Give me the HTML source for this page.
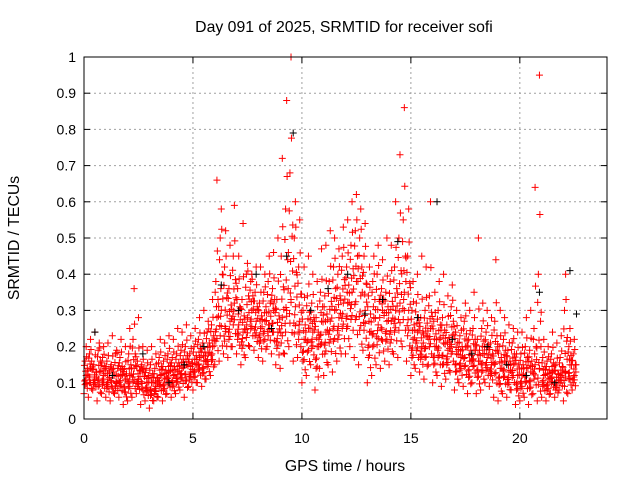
<!DOCTYPE html>
<html><head><meta charset="utf-8"><style>
body{margin:0;background:#fff}
svg{display:block;font-family:"Liberation Sans",sans-serif;font-size:14px}
.t{font-size:15.8px}
</style></head><body>
<svg id="chart" width="640" height="480">
<rect width="640" height="480" fill="#fff"/>
<text class="t" x="344" y="32" text-anchor="middle">Day 091 of 2025, SRMTID for receiver sofi</text>
<text class="t" x="345" y="471" text-anchor="middle">GPS time / hours</text>
<text class="t" transform="translate(19,238) rotate(-90)" text-anchor="middle">SRMTID / TECUs</text>
<g id="grid"></g>
<g id="ticks"></g>
<g id="marks"></g>
<rect x="84" y="57" width="523" height="362" fill="none" stroke="#000" stroke-width="1"/>
</svg>
<script>
const xTicks=[0,5,10,15,20];
const yTicks=[0,0.1,0.2,0.3,0.4,0.5,0.6,0.7,0.8,0.9,1];
const yTickLabels=["0","0.1","0.2","0.3","0.4","0.5","0.6","0.7","0.8","0.9","1"];
const times=[0,0.2,0.4,0.6,0.8,1,1.2,1.4,1.6,1.8,2,2.2,2.4,2.6,2.8,3,3.2,3.4,3.6,3.8,4,4.2,4.4,4.6,4.8,5,5.2,5.4,5.6,5.8,6,6.2,6.4,6.6,6.8,7,7.2,7.4,7.6,7.8,8,8.2,8.4,8.6,8.8,9,9.2,9.4,9.6,9.8,10,10.2,10.4,10.6,10.8,11,11.2,11.4,11.6,11.8,12,12.2,12.4,12.6,12.8,13,13.2,13.4,13.6,13.8,14,14.2,14.4,14.6,14.8,15,15.2,15.4,15.6,15.8,16,16.2,16.4,16.6,16.8,17,17.2,17.4,17.6,17.8,18,18.2,18.4,18.6,18.8,19,19.2,19.4,19.6,19.8,20,20.2,20.4,20.6,20.8,21,21.2,21.4,21.6,21.8,22,22.2,22.4];
const lows=[.07,.06,.08,.05,.07,.06,.05,.07,.06,.04,.05,.06,.07,.04,.05,.03,.05,.06,.05,.07,.06,.07,.08,.06,.09,.08,.1,.09,.11,.12,.15,.16,.18,.17,.2,.18,.15,.17,.2,.19,.17,.16,.2,.18,.15,.14,.18,.2,.16,.17,.1,.12,.15,.08,.14,.12,.15,.13,.16,.18,.18,.2,.17,.15,.19,.1,.12,.15,.14,.16,.15,.18,.17,.2,.16,.12,.14,.13,.11,.15,.1,.12,.09,.11,.13,.08,.1,.09,.07,.1,.07,.08,.1,.09,.06,.05,.07,.06,.08,.04,.05,.06,.04,.07,.05,.06,.05,.07,.06,.08,.05,.07,.08];
const mids=[.12,.14,.11,.13,.12,.11,.13,.10,.12,.11,.12,.14,.11,.13,.10,.10,.09,.12,.11,.13,.12,.13,.14,.15,.13,.15,.17,.16,.18,.2,.28,.3,.25,.27,.32,.26,.24,.28,.3,.27,.25,.27,.26,.3,.24,.28,.3,.33,.31,.27,.22,.25,.24,.2,.27,.24,.27,.3,.28,.32,.32,.35,.38,.34,.3,.24,.28,.26,.3,.27,.27,.3,.32,.35,.3,.22,.24,.2,.23,.25,.2,.22,.21,.19,.23,.18,.17,.2,.16,.19,.16,.18,.17,.15,.19,.14,.16,.13,.15,.12,.12,.14,.13,.15,.14,.12,.11,.13,.1,.12,.13,.15,.12];
const mids2=[.16,.18,.15,.19,.17,.16,.15,.18,.17,.14,.18,.22,.16,.15,.14,.15,.14,.17,.16,.18,.17,.18,.19,.2,.18,.2,.22,.21,.24,.26,.38,.5,.42,.36,.45,.36,.33,.4,.38,.35,.32,.35,.38,.36,.33,.45,.58,.68,.5,.42,.3,.34,.32,.28,.35,.34,.38,.42,.4,.45,.42,.48,.52,.5,.45,.34,.38,.4,.36,.35,.38,.42,.5,.55,.45,.3,.32,.28,.3,.34,.27,.3,.28,.26,.31,.24,.23,.27,.22,.25,.22,.25,.24,.21,.27,.2,.22,.19,.21,.18,.18,.2,.19,.25,.4,.17,.16,.18,.15,.17,.3,.2,.18];
const tops=[.2,.22,.24,.21,.2,.21,.23,.19,.22,.2,.25,.36,.28,.2,.19,.2,.18,.22,.21,.23,.22,.25,.24,.26,.23,.25,.28,.3,.27,.33,.66,.58,.52,.48,.59,.45,.54,.43,.4,.42,.42,.4,.45,.46,.5,.72,.88,1.0,.6,.55,.42,.45,.4,.38,.47,.48,.52,.5,.47,.53,.55,.6,.62,.58,.54,.42,.45,.48,.44,.5,.48,.6,.73,.86,.58,.38,.4,.45,.42,.6,.35,.38,.4,.34,.37,.3,.28,.32,.3,.35,.5,.32,.3,.28,.44,.3,.28,.26,.25,.24,.24,.28,.3,.64,.95,.22,.2,.24,.21,.23,.4,.25,.22];
const blackT=[0.5,1.3,2.7,3.9,4.6,5.5,6.3,7.1,7.9,8.6,9.3,9.6,10.4,11.2,12.1,12.9,13.7,14.4,15.3,16.2,16.9,17.8,18.5,19.4,20.3,20.9,21.6,22.3,22.6];
const blackV=[.24,.12,.18,.1,.15,.2,.37,.3,.4,.25,.45,.79,.3,.36,.4,.29,.33,.49,.28,.6,.22,.18,.2,.15,.12,.35,.1,.41,.29];

const ns="http://www.w3.org/2000/svg";
const X=t=>84+t*(523/24);
const Y=v=>419-v*362;
const grid=document.getElementById('grid'),ticks=document.getElementById('ticks'),marks=document.getElementById('marks');
function mk(tag,attrs,parent){const e=document.createElementNS(ns,tag);for(const k in attrs)e.setAttribute(k,attrs[k]);parent.appendChild(e);return e;}
yTicks.forEach((v,i)=>{
  if(i>0&&i<yTicks.length-1){const g=mk('line',{x1:84,x2:607,y1:Y(v),y2:Y(v),stroke:'#a0a0a0','stroke-dasharray':'2,3'},grid);
  
  }
  mk('line',{x1:84,x2:90,y1:Y(v),y2:Y(v),stroke:'#000'},ticks);
  mk('line',{x1:601,x2:607,y1:Y(v),y2:Y(v),stroke:'#000'},ticks);
  const t=mk('text',{x:76,y:Y(v)+5,'text-anchor':'end'},ticks);t.textContent=yTickLabels[i];
  
  
});
xTicks.forEach(v=>{
  if(v>0){const g=mk('line',{x1:X(v),x2:X(v),y1:57,y2:419,stroke:'#a0a0a0','stroke-dasharray':'2,3'},grid);
  
  }
  mk('line',{x1:X(v),x2:X(v),y1:419,y2:413,stroke:'#000'},ticks);
  mk('line',{x1:X(v),x2:X(v),y1:57,y2:63,stroke:'#000'},ticks);
  const t=mk('text',{x:X(v),y:443,'text-anchor':'middle'},ticks);t.textContent=String(v);
  
  
});
function plus(t,v,c){
  const x=X(t),y=Y(v);
  const p=mk('path',{d:`M${x-3.5},${y}H${x+3.5}M${x},${y-3.5}V${y+3.5}`,stroke:c,'stroke-width':1,fill:'none'},marks);
  
  
}
// blends between the read-off envelope levels fill the dense cloud
const blends=[[1,0,0,0,0],[0,1,0,0,0.1],[0,0,1,0,0.05],[0,0,0,1,0.1],
 [.5,.5,0,0,0.05],[0,.5,.5,0,0.15],[0,0,.7,.3,0.12],[.7,.3,0,0,0.15],
 [.3,.7,0,0,0.03],[0,.7,.3,0,0.08],[.3,0,.7,0,0.18],[.6,.2,.2,0,0.1],
 [0,.3,.7,0,0.02],[.2,.5,.3,0,0.17],[.4,.4,.2,0,0.07]];
times.forEach((t,i)=>{
  blends.forEach(b=>{
    const v=b[0]*lows[i]+b[1]*mids[i]+b[2]*mids2[i]+b[3]*tops[i];
    plus(t+b[4],v,'#ff0000');
  });
});
blackT.forEach((t,i)=>plus(t,blackV[i],'#000'));
</script>
</body></html>
